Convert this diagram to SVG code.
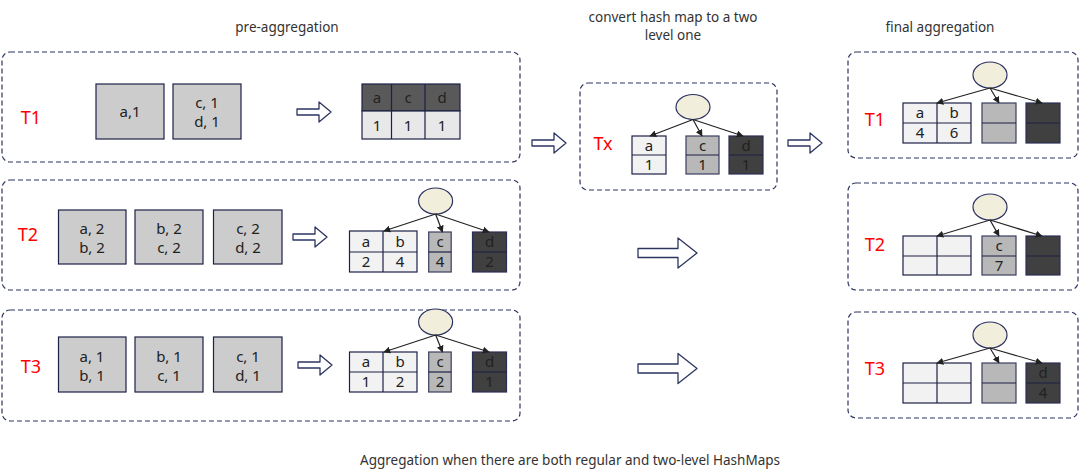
<svg xmlns="http://www.w3.org/2000/svg" width="1080" height="473" viewBox="0 0 1080 473">
<style>
text{font-family:"Noto Sans","Open Sans","Liberation Sans",sans-serif;font-size:15px;fill:#222;text-anchor:middle}
.title{font-size:13.5px;fill:#333}
.tl{font-size:18px;fill:#ff0000}
.panel{fill:none;stroke:#2d3561;stroke-width:1.2;stroke-dasharray:5,3}
.box{fill:#cccccc;stroke:#1c2145;stroke-width:1.2}
.lt{fill:#f2f2f2;stroke:#1c2145;stroke-width:1.2}
.md{fill:#b8b8b8;stroke:#3a3f60;stroke-width:1.2}
.dk{fill:#404040;stroke:#2a2f55;stroke-width:1.2}
.hd{fill:#595959;stroke:#1c2145;stroke-width:1.2}
.lr{fill:#e8e8e8;stroke:#1c2145;stroke-width:1.2}
.ln{stroke:#1c2145;stroke-width:1.2;fill:none}
.el{fill:#f2eedc;stroke:#2a3160;stroke-width:1.2}
.edge{stroke:#222;stroke-width:1.2;fill:none;marker-end:url(#ah)}
.harrow{fill:#fff;stroke:#2d3561;stroke-width:1.3;stroke-linejoin:round}
</style>
<defs>
<marker id="ah" viewBox="0 0 10 10" refX="9" refY="5" markerWidth="7" markerHeight="7" orient="auto" markerUnits="userSpaceOnUse"><path d="M0,0 L10,5 L0,10 Z" fill="#222"/></marker>
<path id="sa" d="M0,-3 H22 V-10 L34,0 L22,10 V3 H0 Z"/>
<path id="ba" d="M0,-4.5 H40 V-15 L59,0 L40,15 V4.5 H0 Z"/>
</defs>

<text class="title" x="287" y="32">pre-aggregation</text>
<text class="title" x="673" y="22">convert hash map to a two</text>
<text class="title" x="673" y="40">level one</text>
<text class="title" x="940" y="32">final aggregation</text>
<text class="title" x="570" y="465">Aggregation when there are both regular and two-level HashMaps</text>

<!-- Pre-aggregation T1 -->
<g id="pre-T1">
<rect class="panel" x="2" y="52" width="518" height="110" rx="8"/>
<text class="tl" x="31" y="124">T1</text>
<rect class="box" x="96" y="84" width="68" height="55"/>
<text x="130" y="117">a,1</text>
<rect class="box" x="173" y="84" width="68" height="55"/>
<text x="207" y="108">c, 1</text>
<text x="207" y="127">d, 1</text>
<rect class="hd" x="362" y="84" width="98" height="27"/>
<rect class="lr" x="362" y="111" width="98" height="28"/>
<path class="ln" d="M391.5,84 V139 M425,84 V139"/>
<text x="377" y="103">a</text><text x="408" y="103">c</text><text x="442" y="103">d</text>
<text x="377" y="131">1</text><text x="408" y="131">1</text><text x="442" y="131">1</text>
</g>

<!-- Pre-aggregation T2 -->
<g id="pre-T2">
<rect class="panel" x="2" y="180" width="518" height="110" rx="8"/>
<text class="tl" x="28" y="241">T2</text>
<rect class="box" x="58.5" y="210" width="67.5" height="54"/>
<text x="92" y="234">a, 2</text><text x="92" y="253">b, 2</text>
<rect class="box" x="135" y="210" width="68" height="54"/>
<text x="169" y="234">b, 2</text><text x="169" y="253">c, 2</text>
<rect class="box" x="213.5" y="210" width="68.5" height="54"/>
<text x="248" y="234">c, 2</text><text x="248" y="253">d, 2</text>
<ellipse class="el" cx="435.6" cy="201" rx="17" ry="13"/>
<rect class="lt" x="349.5" y="231" width="67.5" height="41"/>
<path class="ln" d="M383,231 V272 M349.5,252 H417"/>
<rect class="md" x="428.7" y="232" width="22.5" height="40"/>
<path class="ln" d="M428.7,252 H451.2"/>
<rect class="dk" x="472.5" y="232" width="34" height="40"/>
<path class="ln" d="M472.5,252 H506.5"/>
<text x="366" y="247">a</text><text x="400" y="247">b</text><text x="440" y="247">c</text><text x="489.5" y="247">d</text>
<text x="366" y="267">2</text><text x="400" y="267">4</text><text x="440" y="267">4</text><text x="489.5" y="267">2</text>
</g>

<!-- Pre-aggregation T3 -->
<g id="pre-T3">
<rect class="panel" x="2" y="310" width="518" height="111" rx="8"/>
<text class="tl" x="31" y="373">T3</text>
<rect class="box" x="58.5" y="337" width="67.5" height="55"/>
<text x="92" y="362">a, 1</text><text x="92" y="381">b, 1</text>
<rect class="box" x="135" y="337" width="68" height="55"/>
<text x="169" y="362">b, 1</text><text x="169" y="381">c, 1</text>
<rect class="box" x="213.5" y="337" width="68.5" height="55"/>
<text x="248" y="362">c, 1</text><text x="248" y="381">d, 1</text>
<ellipse class="el" cx="435.6" cy="322" rx="17" ry="13"/>
<rect class="lt" x="349.5" y="352" width="67.5" height="40"/>
<path class="ln" d="M383,352 V392 M349.5,372 H417"/>
<rect class="md" x="428.7" y="352" width="22.5" height="40"/>
<path class="ln" d="M428.7,372 H451.2"/>
<rect class="dk" x="472.5" y="352" width="34" height="40"/>
<path class="ln" d="M472.5,372 H506.5"/>
<text x="366" y="367">a</text><text x="400" y="367">b</text><text x="440" y="367">c</text><text x="489.5" y="367">d</text>
<text x="366" y="387">1</text><text x="400" y="387">2</text><text x="440" y="387">2</text><text x="489.5" y="387">1</text>
</g>

<!-- Tx -->
<g id="Tx">
<rect class="panel" x="580" y="83" width="197" height="107" rx="8"/>
<text class="tl" x="603" y="150">Tx</text>
<ellipse class="el" cx="693" cy="107" rx="17" ry="12.5"/>
<rect class="lt" x="632" y="136" width="34" height="38"/>
<path class="ln" d="M632,155 H666"/>
<rect class="md" x="686" y="136" width="33" height="38"/>
<path class="ln" d="M686,155 H719"/>
<rect class="dk" x="729" y="136" width="34" height="38"/>
<path class="ln" d="M729,155 H763"/>
<text x="649" y="151">a</text><text x="702.5" y="151">c</text><text x="746" y="151">d</text>
<text x="649" y="170">1</text><text x="702.5" y="170">1</text><text x="746" y="170">1</text>
</g>

<!-- Final T1 -->
<g id="final-T1">
<rect class="panel" x="848" y="52" width="230" height="106" rx="8"/>
<text class="tl" x="875" y="126">T1</text>
<ellipse class="el" cx="990" cy="75" rx="17" ry="13"/>
<rect class="lt" x="903" y="103" width="68" height="40"/>
<path class="ln" d="M937,103 V143 M903,123 H971"/>
<rect class="md" x="982" y="103" width="34" height="40"/>
<path class="ln" d="M982,123 H1016"/>
<rect class="dk" x="1026" y="103" width="34" height="40"/>
<path class="ln" d="M1026,123 H1060"/>
<text x="920" y="118">a</text><text x="954" y="118">b</text>
<text x="920" y="138">4</text><text x="954" y="138">6</text>
</g>

<!-- Final T2 -->
<g id="final-T2">
<rect class="panel" x="848" y="183" width="230" height="107" rx="8"/>
<text class="tl" x="875" y="251">T2</text>
<ellipse class="el" cx="990" cy="207" rx="17" ry="13"/>
<rect class="lt" x="903" y="236" width="68" height="39"/>
<path class="ln" d="M937,236 V275 M903,256 H971"/>
<rect class="md" x="982" y="236" width="34" height="39"/>
<path class="ln" d="M982,256 H1016"/>
<rect class="dk" x="1026" y="236" width="34" height="39"/>
<path class="ln" d="M1026,256 H1060"/>
<text x="999" y="251">c</text><text x="999" y="271">7</text>
</g>

<!-- Final T3 -->
<g id="final-T3">
<rect class="panel" x="848" y="312" width="230" height="106" rx="8"/>
<text class="tl" x="875" y="375">T3</text>
<ellipse class="el" cx="990" cy="335" rx="17" ry="13"/>
<rect class="lt" x="903" y="363" width="68" height="40"/>
<path class="ln" d="M937,363 V403 M903,383 H971"/>
<rect class="md" x="982" y="363" width="34" height="40"/>
<path class="ln" d="M982,383 H1016"/>
<rect class="dk" x="1026" y="363" width="34" height="40"/>
<path class="ln" d="M1026,383 H1060"/>
<text x="1043" y="378">d</text><text x="1043" y="398">4</text>
</g>

<!-- Connectors -->
<g id="connectors">
<path class="edge" d="M435.6,214 L384,231"/>
<path class="edge" d="M435.6,214 L442.5,232"/>
<path class="edge" d="M435.6,214 L489,232"/>
<path class="edge" d="M435.6,335 L384,352"/>
<path class="edge" d="M435.6,335 L442.5,352"/>
<path class="edge" d="M435.6,335 L489,352"/>
<path class="edge" d="M693,119.5 L650,136"/>
<path class="edge" d="M693,119.5 L702,136"/>
<path class="edge" d="M693,119.5 L743,136"/>
<path class="edge" d="M990,88 L937,103"/>
<path class="edge" d="M990,88 L999,103"/>
<path class="edge" d="M990,88 L1042,103"/>
<path class="edge" d="M990,220 L937,236"/>
<path class="edge" d="M990,220 L999,236"/>
<path class="edge" d="M990,220 L1042,236"/>
<path class="edge" d="M990,348 L937,363"/>
<path class="edge" d="M990,348 L999,363"/>
<path class="edge" d="M990,348 L1042,363"/>
<use href="#sa" class="harrow" transform="translate(297,112)"/>
<use href="#sa" class="harrow" transform="translate(293,237)"/>
<use href="#sa" class="harrow" transform="translate(298,365)"/>
<use href="#sa" class="harrow" transform="translate(532,143)"/>
<use href="#sa" class="harrow" transform="translate(788,143)"/>
<use href="#ba" class="harrow" transform="translate(638,253)"/>
<use href="#ba" class="harrow" transform="translate(638,368.5)"/>
</g>
</svg>
